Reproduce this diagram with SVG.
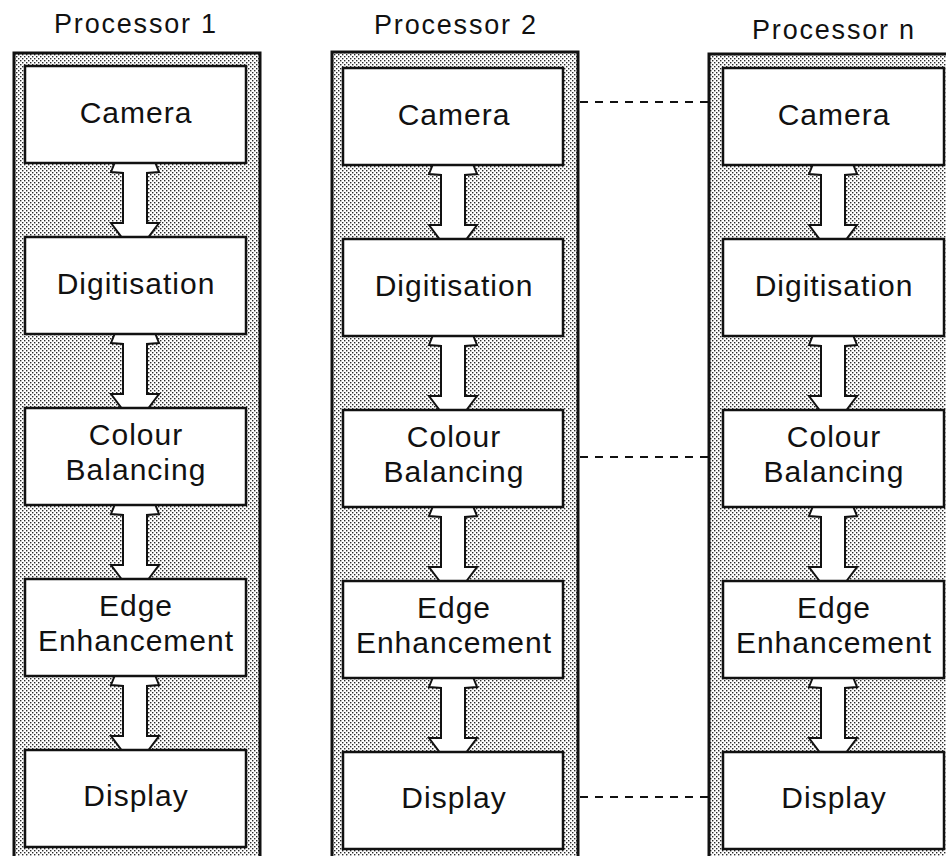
<svg xmlns="http://www.w3.org/2000/svg" width="946" height="856" viewBox="0 0 946 856">
  <defs>
    <!-- fine dot screen used for the processor frames -->
    <pattern id="stipple" width="4" height="4" patternUnits="userSpaceOnUse">
      <rect width="4" height="4" fill="#ffffff"/>
      <rect x="0" y="0" width="1.4" height="1.4" fill="#2a2a2a"/>
      <rect x="2" y="2" width="1.4" height="1.4" fill="#2a2a2a"/>
    </pattern>
    <style>
      .frame { fill: url(#stipple); stroke: #111; stroke-width: 3; }
      .box { fill: #fff; stroke: #111; stroke-width: 2.5; }
      .title { font-family: "Liberation Sans", Arial, sans-serif; font-size: 27px; letter-spacing: 1.8px; fill: #111; text-anchor: middle; }
      .label { font-family: "Liberation Sans", Arial, sans-serif; font-size: 30px; letter-spacing: 1px; fill: #111; text-anchor: middle; }
      .arrow { fill: #fff; stroke: #111; stroke-width: 2; stroke-linejoin: miter; }
      .link { fill: none; stroke: #111; stroke-width: 2.2; stroke-dasharray: 8 7; }
    </style>
  </defs>

  <rect width="946" height="856" fill="#ffffff"/>

  <!-- processor frames with titles -->
  <g id="processor-1">
    <rect class="frame" x="14" y="53" width="246" height="806"/>
    <text class="title" x="136" y="33">Processor 1</text>
  </g>
  <g id="processor-2">
    <rect class="frame" x="332" y="52" width="246" height="807"/>
    <text class="title" x="456" y="34">Processor 2</text>
  </g>
  <g id="processor-n">
    <rect class="frame" x="709" y="54" width="246" height="805"/>
    <text class="title" x="834" y="39">Processor n</text>
  </g>

  <!-- connectors: double-headed pipeline arrows and dashed cross links -->
  <g id="connectors">
    <!-- processor 1, cx = 135 -->
    <polygon class="arrow" points="115,162 111,172 123,173 123,223 111,223 123,239 147,239 159,223 147,223 147,173 159,172 155,162"/>
    <polygon class="arrow" points="115,333 111,343 123,344 123,394 111,394 123,410 147,410 159,394 147,394 147,344 159,343 155,333"/>
    <polygon class="arrow" points="115,504 111,514 123,515 123,565 111,565 123,581 147,581 159,565 147,565 147,515 159,514 155,504"/>
    <polygon class="arrow" points="115,675 111,685 123,686 123,736 111,736 123,752 147,752 159,736 147,736 147,686 159,685 155,675"/>
    <!-- processor 2, cx = 453 -->
    <polygon class="arrow" points="433,164 429,174 441,175 441,225 429,225 441,241 465,241 477,225 465,225 465,175 477,174 473,164"/>
    <polygon class="arrow" points="433,335 429,345 441,346 441,396 429,396 441,412 465,412 477,396 465,396 465,346 477,345 473,335"/>
    <polygon class="arrow" points="433,506 429,516 441,517 441,567 429,567 441,583 465,583 477,567 465,567 465,517 477,516 473,506"/>
    <polygon class="arrow" points="433,677 429,687 441,688 441,738 429,738 441,754 465,754 477,738 465,738 465,688 477,687 473,677"/>
    <!-- processor n, cx = 833 -->
    <polygon class="arrow" points="813,164 809,174 821,175 821,225 809,225 821,241 845,241 857,225 845,225 845,175 857,174 853,164"/>
    <polygon class="arrow" points="813,335 809,345 821,346 821,396 809,396 821,412 845,412 857,396 845,396 845,346 857,345 853,335"/>
    <polygon class="arrow" points="813,506 809,516 821,517 821,567 809,567 821,583 845,583 857,567 845,567 845,517 857,516 853,506"/>
    <polygon class="arrow" points="813,677 809,687 821,688 821,738 809,738 821,754 845,754 857,738 845,738 845,688 857,687 853,677"/>
    <!-- dashed links between processor 2 and processor n -->
    <line class="link" x1="580" y1="102" x2="708" y2="102"/>
    <line class="link" x1="580" y1="457" x2="708" y2="457"/>
    <line class="link" x1="580" y1="797" x2="708" y2="797"/>
  </g>

  <!-- processor 1 stages -->
  <g id="p1-camera">
    <rect class="box" x="25" y="66" width="221" height="97"/>
    <text class="label" x="136" y="123">Camera</text>
  </g>
  <g id="p1-digitisation">
    <rect class="box" x="25" y="237" width="221" height="97"/>
    <text class="label" x="136" y="294">Digitisation</text>
  </g>
  <g id="p1-colour">
    <rect class="box" x="25" y="408" width="221" height="97"/>
    <text class="label" x="136" y="445">Colour</text>
    <text class="label" x="136" y="480">Balancing</text>
  </g>
  <g id="p1-edge">
    <rect class="box" x="25" y="579" width="221" height="97"/>
    <text class="label" x="136" y="616">Edge</text>
    <text class="label" x="136" y="651">Enhancement</text>
  </g>
  <g id="p1-display">
    <rect class="box" x="25" y="750" width="221" height="97"/>
    <text class="label" x="136" y="806">Display</text>
  </g>

  <!-- processor 2 stages -->
  <g id="p2-camera">
    <rect class="box" x="343" y="68" width="220" height="97"/>
    <text class="label" x="454" y="125">Camera</text>
  </g>
  <g id="p2-digitisation">
    <rect class="box" x="343" y="239" width="220" height="97"/>
    <text class="label" x="454" y="296">Digitisation</text>
  </g>
  <g id="p2-colour">
    <rect class="box" x="343" y="410" width="220" height="97"/>
    <text class="label" x="454" y="447">Colour</text>
    <text class="label" x="454" y="482">Balancing</text>
  </g>
  <g id="p2-edge">
    <rect class="box" x="343" y="581" width="220" height="97"/>
    <text class="label" x="454" y="618">Edge</text>
    <text class="label" x="454" y="653">Enhancement</text>
  </g>
  <g id="p2-display">
    <rect class="box" x="343" y="752" width="220" height="97"/>
    <text class="label" x="454" y="808">Display</text>
  </g>

  <!-- processor n stages -->
  <g id="pn-camera">
    <rect class="box" x="723" y="68" width="221" height="97"/>
    <text class="label" x="834" y="125">Camera</text>
  </g>
  <g id="pn-digitisation">
    <rect class="box" x="723" y="239" width="221" height="97"/>
    <text class="label" x="834" y="296">Digitisation</text>
  </g>
  <g id="pn-colour">
    <rect class="box" x="723" y="410" width="221" height="97"/>
    <text class="label" x="834" y="447">Colour</text>
    <text class="label" x="834" y="482">Balancing</text>
  </g>
  <g id="pn-edge">
    <rect class="box" x="723" y="581" width="221" height="97"/>
    <text class="label" x="834" y="618">Edge</text>
    <text class="label" x="834" y="653">Enhancement</text>
  </g>
  <g id="pn-display">
    <rect class="box" x="723" y="752" width="221" height="97"/>
    <text class="label" x="834" y="808">Display</text>
  </g>
</svg>
